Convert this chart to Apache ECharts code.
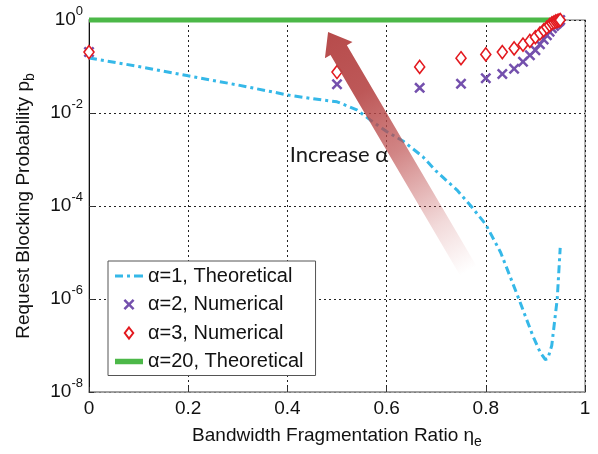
<!DOCTYPE html>
<html>
<head>
<meta charset="utf-8">
<script src="https://cdn.jsdelivr.net/npm/echarts@6/dist/echarts.min.js"></script>
<style>html,body{margin:0;padding:0;background:#fff}#c{width:598px;height:454px}</style>
</head>
<body>
<div id="c"></div>
<script>
// ---- data ----
const etaNum = [0, 0.5, 0.6667, 0.75, 0.8, 0.8333, 0.8571, 0.875, 0.8889, 0.9, 0.9091, 0.9167, 0.9231, 0.9286, 0.9333, 0.9375, 0.9412, 0.9444, 0.9474, 0.95];
const alpha2Num = [0.204, 0.0417, 0.0347, 0.0427, 0.0562, 0.0692, 0.0891, 0.126, 0.174, 0.224, 0.302, 0.38, 0.468, 0.562, 0.661, 0.741, 0.813, 0.871, 0.933, 1.0];
const alpha3Num = [0.204, 0.076, 0.098, 0.151, 0.182, 0.204, 0.245, 0.295, 0.355, 0.427, 0.513, 0.603, 0.692, 0.776, 0.851, 0.891, 0.933, 0.955, 0.977, 1.0];
const etaTheo1 = [0, 0.1, 0.2, 0.3, 0.4, 0.45, 0.5, 0.54, 0.567, 0.6, 0.633, 0.673, 0.7, 0.742, 0.77, 0.8, 0.83, 0.863, 0.895, 0.91, 0.92, 0.925, 0.933, 0.944, 0.95];
const alpha1Theo = [0.153, 0.1, 0.063, 0.04, 0.0245, 0.0204, 0.0174, 0.0117, 0.0071, 0.004, 0.0025, 0.00115, 5.6e-4, 2.2e-4, 1e-4, 4e-5, 1e-5, 1.26e-6, 1.6e-7, 7e-8, 5e-8, 5.2e-8, 1e-7, 1e-6, 1.26e-5];
const etaTheo20 = [0, 0.95];
const alpha20Theo = [1, 1];
const xTicks = [0, 0.2, 0.4, 0.6, 0.8, 1];
const seriesNames = ['\u03b1=1, Theoretical', '\u03b1=2, Numerical', '\u03b1=3, Numerical', '\u03b1=20, Theoretical'];
const arrowTip = [0.482, 0.55];
const arrowTail = [0.765, 4e-6];
const noteText = 'Increase \u03b1';
const noteAt = [0.504, 1.27e-3];

const FONT = 'Liberation Sans, Arial, sans-serif';
const zip = (xs, ys) => xs.map((x, i) => [x, ys[i]]);
const xPath = 'path://M0,1.6L1.6,0L5,3.4L8.4,0L10,1.6L6.6,5L10,8.4L8.4,10L5,6.6L1.6,10L0,8.4L3.4,5Z';
const dPath = 'path://M5,0L10,6.5L5,13L0,6.5Z';
const dashDotIcon = 'path://M0,0h8v3h-8z M12,0h3v3h-3z M19,0h9v3h-9z';
const thickIcon = 'path://M0,0h28v5.5h-28z';

const chart = echarts.init(document.getElementById('c'), null, {renderer: 'canvas'});
chart.setOption({
  animation: false,
  backgroundColor: '#fff',
  grid: {left: 89, right: 13, top: 20, bottom: 61, show: true, borderColor: '#9a9a9a', borderWidth: 1.5, backgroundColor: 'transparent'},
  legend: {
    orient: 'vertical', left: 108, top: 261,
    backgroundColor: '#fff', borderColor: '#555', borderWidth: 1,
    padding: [5, 12, 4, 7], itemGap: 8.5, itemWidth: 28, itemHeight: 11,
    symbolKeepAspect: true,
    textStyle: {fontFamily: FONT, fontSize: 20, color: '#111', lineHeight: 20},
    data: [
      {name: seriesNames[0], icon: dashDotIcon},
      {name: seriesNames[1], icon: xPath},
      {name: seriesNames[2], icon: dPath},
      {name: seriesNames[3], icon: thickIcon}
    ]
  },
  xAxis: {
    type: 'value', min: 0, max: 1, interval: 0.2,
    axisLine: {show: true, lineStyle: {color: '#9a9a9a', width: 1.5}},
    axisTick: {show: true, inside: true, length: 5, lineStyle: {color: '#333'}},
    axisLabel: {fontFamily: FONT, fontSize: 19, color: '#111', margin: 7, formatter: v => xTicks.includes(+v.toFixed(1)) ? String(+v.toFixed(1)) : ''},
    splitLine: {show: true, lineStyle: {color: '#222', type: [2, 3], width: 1}},
    name: 'Bandwidth Fragmentation Ratio \u03b7{e|e}',
    nameLocation: 'middle', nameGap: 31,
    nameTextStyle: {fontFamily: FONT, fontSize: 19, color: '#111', lineHeight: 26,
      rich: {e: {fontFamily: FONT, fontSize: 14, color: '#111', lineHeight: 12, verticalAlign: 'bottom'}}}
  },
  yAxis: {
    type: 'log', logBase: 10, min: 1e-8, max: 1, interval: 2,
    axisLine: {show: true, lineStyle: {color: '#111', width: 1}},
    axisTick: {show: true, inside: true, length: 5, lineStyle: {color: '#333'}},
    minorTick: {show: false},
    axisLabel: {
      margin: 6,
      formatter: v => '{b|10}{s|' + Math.round(Math.log10(v)) + '}',
      rich: {
        b: {fontFamily: FONT, fontSize: 19, color: '#111', lineHeight: 30},
        s: {fontFamily: FONT, fontSize: 13, color: '#111', lineHeight: 14, verticalAlign: 'top'}
      }
    },
    splitLine: {show: true, lineStyle: {color: '#222', type: [2, 3], width: 1}},
    name: 'Request Blocking Probability p{b|b}',
    nameLocation: 'middle', nameGap: 52, nameRotate: 90,
    nameTextStyle: {fontFamily: FONT, fontSize: 19, color: '#111', lineHeight: 26,
      rich: {b: {fontFamily: FONT, fontSize: 14, color: '#111', lineHeight: 12, verticalAlign: 'bottom'}}}
  },
  series: [
    {
      name: seriesNames[0], type: 'line', data: zip(etaTheo1, alpha1Theo),
      showSymbol: false, symbol: 'none', z: 3,
      lineStyle: {color: '#35b8e8', width: 3, type: [8, 4, 3, 4]},
      itemStyle: {color: '#35b8e8'}
    },
    {
      name: seriesNames[1], type: 'scatter', data: zip(etaNum, alpha2Num),
      symbol: xPath, symbolSize: 11, z: 4,
      itemStyle: {color: '#7450ad', opacity: 1}
    },
    {
      name: seriesNames[2], type: 'scatter', data: zip(etaNum, alpha3Num),
      symbol: 'diamond', symbolSize: [10, 13], z: 5,
      itemStyle: {color: '#fff', borderColor: '#e3191f', borderWidth: 1.6, opacity: 1}
    },
    {
      name: seriesNames[3], type: 'line', data: zip(etaTheo20, alpha20Theo),
      showSymbol: false, symbol: 'none', clip: false, z: 2,
      lineStyle: {color: '#4cb848', width: 5},
      itemStyle: {color: '#4cb848'}
    }
  ]
});

// arrow and note annotation, anchored by data coordinates
const T = chart.convertToPixel({gridIndex: 0}, arrowTip);
const B = chart.convertToPixel({gridIndex: 0}, arrowTail);
const dx = T[0] - B[0], dy = T[1] - B[1];
const L = Math.hypot(dx, dy);
const u = [dx / L, dy / L];
const n = [-u[1], u[0]];
const headLen = 21, headHalf = 16, shaftHalf = 9.5;
const H = [T[0] - u[0] * headLen, T[1] - u[1] * headLen];
const P = (p, k) => [p[0] + n[0] * k, p[1] + n[1] * k];
const pts = [P(B, shaftHalf), P(H, shaftHalf), P(H, headHalf), T, P(H, -headHalf), P(H, -shaftHalf), P(B, -shaftHalf)];
const N = chart.convertToPixel({gridIndex: 0}, noteAt);
chart.setOption({
  graphic: [
    {
      type: 'polygon', z: 100, silent: true,
      shape: {points: pts},
      style: {
        fill: new echarts.graphic.LinearGradient(B[0], B[1], T[0], T[1], [
          {offset: 0, color: 'rgba(200,90,90,0)'},
          {offset: 0.2, color: 'rgba(195,85,85,0.22)'},
          {offset: 0.5, color: 'rgba(188,76,76,0.68)'},
          {offset: 0.75, color: 'rgba(182,70,70,0.9)'},
          {offset: 1, color: 'rgba(180,68,68,0.96)'}
        ], true)
      }
    },
    {
      type: 'text', z: 101, silent: true, x: N[0], y: N[1],
      style: {text: noteText, font: '22px Lato, "Open Sans", sans-serif', fill: '#1a1a1a', align: 'center', verticalAlign: 'middle'}
    }
  ]
});
</script>
</body>
</html>
